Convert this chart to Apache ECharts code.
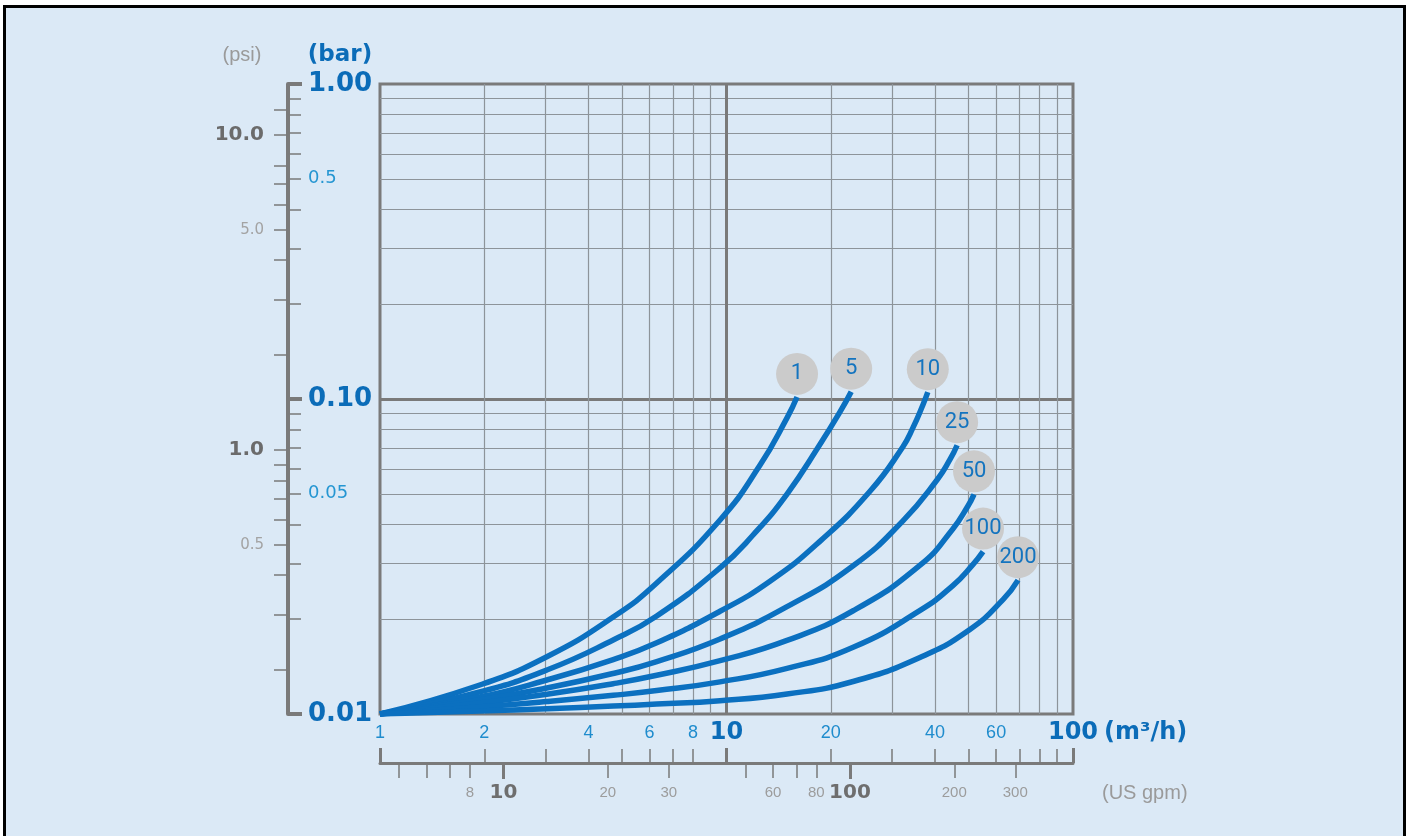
<!DOCTYPE html>
<html><head><meta charset="utf-8">
<script src="https://cdn.jsdelivr.net/npm/echarts@6/dist/echarts.min.js"></script>
<style>
html,body{margin:0;padding:0;background:#fff;overflow:hidden;width:1408px;height:836px;}
#bg{position:absolute;left:3px;top:5px;width:1403px;height:900px;box-sizing:border-box;border:3px solid #000;background:#dbe9f6;}
#c{position:absolute;left:0;top:0;width:1408px;height:836px;}
</style>
</head><body><div id="bg"></div><div id="c"></div>
<script>
// ---- data (flow in m³/h, pressure drop in bar) ----
const curveNames = ['1', '5', '10', '25', '50', '100', '200'];
const flow1 = [1, 1.94, 3.03, 4.71, 6.29, 9.58, 12.5, 14.95, 15.98];
const dp1   = [0.01, 0.01236, 0.0152, 0.02032, 0.02605, 0.0413, 0.0617, 0.0871, 0.1015];
const flow5 = [1, 1.94, 3.03, 4.71, 6.29, 9.58, 11.93, 14.95, 18.6, 21.3, 22.9];
const dp5   = [0.01, 0.01175, 0.01379, 0.01718, 0.02047, 0.0291, 0.037, 0.04993, 0.0717, 0.0913, 0.1055];
const flow10 = [1, 1.94, 3.03, 4.71, 6.29, 9.58, 13.35, 18.6, 25.95, 32.3, 34.53, 36.9, 38.1];
const dp10   = [0.01, 0.01132, 0.01282, 0.01489, 0.01683, 0.02119, 0.02638, 0.03533, 0.05093, 0.07058, 0.0811, 0.0959, 0.1051];
const flow25 = [1, 1.94, 3.03, 4.71, 6.29, 9.58, 14.95, 23.2, 32.3, 40.5, 44.2, 46.3];
const dp25   = [0.01, 0.01108, 0.01209, 0.01345, 0.01467, 0.01731, 0.02191, 0.02954, 0.04105, 0.05533, 0.0644, 0.07133];
const flow50 = [1, 1.94, 3.03, 4.71, 6.29, 9.58, 14.95, 23.2, 36.2, 45.0, 49.8, 51.8];
const dp50   = [0.01, 0.01084, 0.01155, 0.01248, 0.01327, 0.01477, 0.01712, 0.02127, 0.02968, 0.03869, 0.04584, 0.04983];
const flow100 = [1, 1.94, 3.03, 4.71, 6.29, 9.58, 14.95, 23.2, 36.2, 45.0, 51.4, 55.0];
const dp100   = [0.01, 0.01052, 0.01095, 0.01146, 0.01187, 0.01265, 0.01396, 0.01628, 0.02133, 0.02557, 0.02981, 0.03278];
const flow200 = [1, 1.94, 3.03, 4.71, 6.29, 9.58, 14.95, 23.2, 36.2, 50.4, 62.8, 69.4];
const dp200   = [0.01, 0.01022, 0.01039, 0.0106, 0.01075, 0.01102, 0.01157, 0.01268, 0.01512, 0.01856, 0.02306, 0.0266];

// ---- axes ticks / labels ----
const gridFlow = [2, 3, 4, 5, 6, 7, 8, 9, 20, 30, 40, 50, 60, 70, 80, 90];
const gridBar = [0.02, 0.03, 0.04, 0.05, 0.06, 0.07, 0.08, 0.09, 0.2, 0.3, 0.4, 0.5, 0.6, 0.7, 0.8, 0.9];
const barMinorTicks = [0.02, 0.03, 0.04, 0.05, 0.06, 0.07, 0.08, 0.09, 0.2, 0.3, 0.4, 0.5, 0.6, 0.7, 0.8, 0.9];
const barMajorTicks = [0.01, 0.1, 1];
const barLabels = [0.01, 0.05, 0.1, 0.5, 1];
const psiTicks = [12, 10, 8, 7, 6, 5, 4, 3, 2, 1, 0.9, 0.8, 0.7, 0.6, 0.5, 0.4, 0.3, 0.2];
const psiLabels = [0.5, 1, 5, 10];
const flowMinorTicks = [2, 3, 4, 5, 6, 7, 8, 20, 30, 40, 50, 60, 70, 80, 90];
const flowMajorTicks = [1, 10, 100];
const flowLabels = [1, 2, 4, 6, 8, 10, 20, 40, 60, 100];
const gpmMinorTicks = [5, 6, 7, 8, 20, 30, 50, 60, 70, 80, 200, 300];
const gpmMajorTicks = [10, 100];
const gpmLabels = [8, 10, 20, 30, 60, 80, 100, 200, 300];
const BAR_TO_PSI = 14.5038;
const M3H_TO_GPM = 4.40287;

const flows = [flow1, flow5, flow10, flow25, flow50, flow100, flow200];
const dps = [dp1, dp5, dp10, dp25, dp50, dp100, dp200];

const isDecade = v => Math.abs(Math.log10(v) - Math.round(Math.log10(v))) < 1e-6;
const clean = v => Number(Number(v).toPrecision(6));

const BLUE = '#0b6cb8', LBLUE = '#2596d2', GRAY = '#7a7a7a', GRIDC = '#8d949a';

const chart = echarts.init(document.getElementById('c'), null, {renderer: 'canvas'});

const hidden = {show: false};
function gridAxisX(vals, width, color) {
  return {type: 'log', logBase: 10, min: 1, max: 100, position: 'bottom', gridIndex: 0,
    axisLine: hidden, axisLabel: hidden, axisTick: {show: false, customValues: vals},
    splitLine: {show: true, lineStyle: {color: color, width: width}}};
}
function gridAxisY(vals, width, color) {
  return {type: 'log', logBase: 10, min: 0.01, max: 1, position: 'left', gridIndex: 0,
    axisLine: hidden, axisLabel: hidden, axisTick: {show: false, customValues: vals},
    splitLine: {show: true, lineStyle: {color: color, width: width}}};
}

const option = {
  backgroundColor: 'transparent',
  animation: false,
  grid: {left: 380, top: 84, width: 693, height: 630, containLabel: false, outerBoundsMode: 'none',
    show: true, borderColor: GRAY, borderWidth: 3, backgroundColor: 'transparent'},
  xAxis: [
    gridAxisX(gridFlow, 1.2, GRIDC),
    gridAxisX([10], 3, GRAY),
    { // m3/h scale
      type: 'log', logBase: 10, min: 1, max: 100, position: 'bottom', offset: 49,
      axisLine: {show: true, lineStyle: {color: GRAY, width: 3}},
      axisTick: {show: true, inside: true, length: 14, customValues: flowMinorTicks, lineStyle: {color: GRAY, width: 1.5}},
      axisLabel: {show: true, inside: true, margin: 30, verticalAlign: 'middle', hideOverlap: false,
        customValues: flowLabels,
        formatter: v => (isDecade(v) && clean(v) > 1) ? '{b|' + clean(v) + '}' : '{s|' + clean(v) + '}',
        rich: {
          b: {fontFamily: 'DejaVu Sans', fontWeight: 'bold', fontSize: 24, color: BLUE},
          s: {fontFamily: 'Liberation Sans', fontSize: 18, color: '#1f8ccd'}
        }},
      splitLine: hidden
    },
    {
      type: 'log', logBase: 10, min: 1, max: 100, position: 'bottom', offset: 49,
      axisLine: hidden, axisLabel: hidden, splitLine: hidden,
      axisTick: {show: true, inside: true, length: 15, customValues: flowMajorTicks, lineStyle: {color: GRAY, width: 3}}
    },
    { // US gpm scale
      type: 'log', logBase: 10, min: 1 * M3H_TO_GPM, max: 100 * M3H_TO_GPM, position: 'bottom', offset: 49,
      axisLine: hidden, splitLine: hidden,
      axisTick: {show: true, inside: false, length: 15, customValues: gpmMinorTicks, lineStyle: {color: GRAY, width: 1.5}},
      axisLabel: {show: true, margin: 30, verticalAlign: 'middle', hideOverlap: false,
        customValues: gpmLabels,
        formatter: v => isDecade(v) ? '{b|' + clean(v) + '}' : '{s|' + clean(v) + '}',
        rich: {
          b: {fontFamily: 'DejaVu Sans', fontWeight: 'bold', fontSize: 20, color: '#6e6e6e'},
          s: {fontFamily: 'Liberation Sans', fontSize: 15, color: '#9c9c9c'}
        }}
    },
    {
      type: 'log', logBase: 10, min: 1 * M3H_TO_GPM, max: 100 * M3H_TO_GPM, position: 'bottom', offset: 49,
      axisLine: hidden, axisLabel: hidden, splitLine: hidden,
      axisTick: {show: true, inside: false, length: 16, customValues: gpmMajorTicks, lineStyle: {color: GRAY, width: 3}}
    }
  ],
  yAxis: [
    gridAxisY(gridBar, 1.2, GRIDC),
    gridAxisY([0.1], 3, GRAY),
    { // bar scale
      type: 'log', logBase: 10, min: 0.01, max: 1, position: 'left', offset: 92,
      axisLine: {show: true, lineStyle: {color: GRAY, width: 4}},
      axisTick: {show: true, inside: true, length: 13, customValues: barMinorTicks, lineStyle: {color: GRAY, width: 1.5}},
      axisLabel: {show: true, inside: true, margin: 20, hideOverlap: false,
        customValues: barLabels,
        formatter: v => isDecade(v) ? '{b|' + clean(v).toFixed(2) + '}' : '{s|' + clean(v) + '}',
        rich: {
          b: {fontFamily: 'DejaVu Sans', fontWeight: 'bold', fontSize: 26, color: BLUE},
          s: {fontFamily: 'DejaVu Sans', fontSize: 18, color: LBLUE}
        }},
      splitLine: hidden
    },
    {
      type: 'log', logBase: 10, min: 0.01, max: 1, position: 'left', offset: 92,
      axisLine: hidden, axisLabel: hidden, splitLine: hidden,
      axisTick: {show: true, inside: true, length: 14, customValues: barMajorTicks, lineStyle: {color: GRAY, width: 4}}
    },
    { // psi scale
      type: 'log', logBase: 10, min: 0.01 * BAR_TO_PSI, max: 1 * BAR_TO_PSI, position: 'left', offset: 92,
      axisLine: hidden, splitLine: hidden,
      axisTick: {show: true, inside: false, length: 14, customValues: psiTicks, lineStyle: {color: GRAY, width: 1.5}},
      axisLabel: {show: true, margin: 24, hideOverlap: false,
        customValues: psiLabels,
        formatter: v => isDecade(v) ? '{b|' + clean(v).toFixed(1) + '}' : '{s|' + clean(v).toFixed(1) + '}',
        rich: {
          b: {fontFamily: 'DejaVu Sans', fontWeight: 'bold', fontSize: 20, color: '#6b6b6b'},
          s: {fontFamily: 'DejaVu Sans', fontSize: 15, color: '#a3a3a3'}
        }}
    }
  ],
  graphic: [
    {type: 'text', x: 242, y: 55, style: {text: '(psi)', align: 'center', verticalAlign: 'middle', fontFamily: 'Liberation Sans', fontSize: 20, fill: '#9a9a9a'}},
    {type: 'text', x: 340, y: 55, style: {text: '(bar)', align: 'center', verticalAlign: 'middle', fontFamily: 'DejaVu Sans', fontWeight: 'bold', fontSize: 23, fill: BLUE}},
    {type: 'text', x: 1104, y: 733, style: {text: '(m³/h)', align: 'left', verticalAlign: 'middle', fontFamily: 'DejaVu Sans', fontWeight: 'bold', fontSize: 24, fill: BLUE}},
    {type: 'text', x: 1102, y: 793, style: {text: '(US gpm)', align: 'left', verticalAlign: 'middle', fontFamily: 'Liberation Sans', fontSize: 20, fill: '#9a9a9a'}}
  ],
  series: curveNames.map((name, i) => {
    const f = flows[i], d = dps[i];
    const n = f.length - 1;
    return {
      name: name, type: 'line', xAxisIndex: 0, yAxisIndex: 0,
      data: f.map((x, k) => [x, d[k]]),
      symbol: 'none', smooth: true,
      lineStyle: {color: '#0b70c0', width: 5.5, cap: 'butt', join: 'round'},
      z: 3,
      markPoint: {
        symbol: 'circle', symbolSize: 42, symbolOffset: [0, -23], silent: true,
        itemStyle: {color: '#cbcbcb'},
        label: {show: true, position: 'inside', formatter: name, fontFamily: 'Roboto', fontSize: 22, color: '#1474bf'},
        data: [{coord: [f[n], d[n]], name: name}]
      }
    };
  })
};
chart.setOption(option);
</script>
</body></html>
